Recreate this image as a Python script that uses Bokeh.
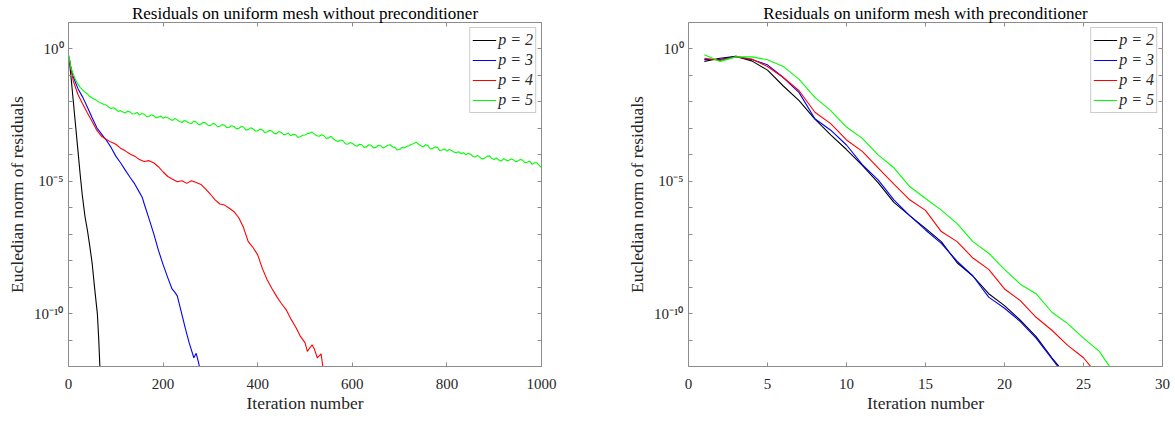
from bokeh.plotting import figure
from bokeh.models import (Range1d, FixedTicker, LogAxis, LinearAxis, Legend, LegendItem,
                          CustomJSTickFormatter)
from bokeh.layouts import row
from bokeh.embed import file_html
from bokeh.resources import INLINE

# ---------------- data: without preconditioner (log10 of residual norm) -------------
black_nop_it = [1, 5, 10, 15, 20, 25, 29, 35, 40, 45, 50, 55, 61, 64, 67]
black_nop_log = [-0.3, -1.0, -1.95, -2.9, -3.85, -4.8, -5.5, -6.35, -6.85, -7.45, -8.1, -9.0, -10.0, -11.0, -12.3]

blue_nop_it = [1, 5, 10, 20, 30, 40, 50, 60, 70, 80, 90, 100, 110, 120, 130, 140, 150, 156, 160,
               170, 180, 190, 200, 210, 219, 225, 230, 240, 247, 255, 265, 270, 275, 280]
blue_nop_log = [-0.3, -0.7, -1.05, -1.5, -1.82, -2.2, -2.6, -2.98, -3.22, -3.45, -3.72, -4.05, -4.3,
                -4.58, -4.85, -5.1, -5.42, -5.61, -5.85, -6.4, -6.97, -7.6, -8.15, -8.65, -9.07, -9.2,
                -9.33, -10.05, -10.56, -11.1, -11.67, -11.5, -11.85, -12.3]

red_nop_it = [1, 10, 20, 30, 40, 50, 60, 70, 80, 90, 100, 110, 120, 130, 140, 150, 160, 170, 180,
              190, 200, 210, 220, 230, 240, 250, 260, 270, 280, 290, 300, 310, 320, 330, 340, 350,
              360, 370, 380, 390, 400, 410, 420, 430, 440, 450, 460, 470, 480, 490, 500, 505, 510,
              515, 520, 526, 530, 534, 540]
red_nop_log = [-0.32, -1.2, -1.72, -2.08, -2.42, -2.74, -3.08, -3.3, -3.42, -3.52, -3.6, -3.75, -3.85,
               -3.97, -4.05, -4.18, -4.25, -4.22, -4.3, -4.45, -4.65, -4.82, -4.92, -5.02, -4.98,
               -5.08, -4.98, -5.05, -5.12, -5.3, -5.49, -5.7, -5.86, -5.9, -6.02, -6.15, -6.38,
               -6.75, -7.28, -7.5, -7.78, -8.3, -8.72, -9.05, -9.35, -9.62, -9.85, -10.2, -10.5,
               -10.85, -11.1, -11.43, -11.3, -11.18, -11.35, -11.67, -11.6, -11.52, -12.3]

green_nop_it = [1] + list(range(5, 1001, 5))
green_nop_log = [-0.25,
                 -0.72, -0.95, -1.16, -1.33, -1.46, -1.55, -1.63, -1.7, -1.8, -1.85,
                 -1.9, -1.95, -2.02, -2.05, -2.1, -2.12, -2.2, -2.25, -2.22, -2.28,
                 -2.36, -2.33, -2.38, -2.42, -2.35, -2.38, -2.46, -2.45, -2.4, -2.5,
                 -2.44, -2.47, -2.56, -2.55, -2.49, -2.52, -2.6, -2.58, -2.53, -2.62,
                 -2.57, -2.6, -2.66, -2.7, -2.63, -2.68, -2.74, -2.78, -2.7, -2.74,
                 -2.8, -2.82, -2.73, -2.76, -2.86, -2.84, -2.77, -2.8, -2.88, -2.9,
                 -2.82, -2.84, -2.94, -2.92, -2.86, -2.88, -2.98, -2.96, -2.9, -2.93,
                 -3.02, -3.0, -2.93, -2.95, -3.06, -3.05, -2.98, -3.02, -3.1, -3.1,
                 -3.03, -3.06, -3.16, -3.14, -3.07, -3.1, -3.2, -3.2, -3.12, -3.16,
                 -3.24, -3.22, -3.18, -3.28, -3.22, -3.24, -3.34, -3.32, -3.26, -3.25,
                 -3.2, -3.18, -3.14, -3.22, -3.28, -3.3, -3.24, -3.28, -3.38, -3.36,
                 -3.3, -3.4, -3.46, -3.5, -3.44, -3.46, -3.58, -3.6, -3.54, -3.56,
                 -3.64, -3.68, -3.6, -3.62, -3.72, -3.7, -3.62, -3.64, -3.74, -3.72,
                 -3.64, -3.66, -3.74, -3.7, -3.64, -3.62, -3.7, -3.72, -3.82, -3.8,
                 -3.72, -3.74, -3.68, -3.66, -3.6, -3.58, -3.52, -3.6, -3.66, -3.7,
                 -3.62, -3.66, -3.78, -3.76, -3.7, -3.72, -3.84, -3.82, -3.78, -3.86,
                 -3.8, -3.84, -3.9, -3.92, -3.88, -3.96, -3.92, -4.0, -3.94, -3.98,
                 -4.06, -4.08, -4.02, -4.1, -4.16, -4.12, -4.06, -4.04, -4.14, -4.18,
                 -4.12, -4.2, -4.24, -4.14, -4.2, -4.22, -4.16, -4.18, -4.26, -4.24,
                 -4.18, -4.2, -4.3, -4.28, -4.24, -4.36, -4.3, -4.3, -4.4, -4.48]

# ---------------- data: with preconditioner ----------------
black_pc_log = [-0.47, -0.35, -0.28, -0.45, -0.8, -1.4, -1.95, -2.65, -3.25, -3.8, -4.4, -5.05,
                -5.8, -6.3, -6.78, -7.28, -8.08, -8.58, -9.25, -9.7, -10.25, -10.87, -11.67, -12.4]
blue_pc_log = [-0.4, -0.4, -0.28, -0.4, -0.6, -1.08, -1.65, -2.64, -3.07, -3.63, -4.37, -4.95,
               -5.7, -6.3, -6.84, -7.35, -8.02, -8.58, -9.38, -9.8, -10.3, -10.93, -11.7, -12.5]
red_pc_log = [-0.35, -0.43, -0.3, -0.38, -0.66, -1.08, -1.58, -2.39, -2.82, -3.44, -3.87, -4.49,
              -5.11, -5.7, -6.1, -6.9, -7.28, -7.9, -8.33, -9.07, -9.51, -10.14, -10.63, -11.2,
              -11.67, -12.4]
green_pc_log = [-0.22, -0.47, -0.3, -0.3, -0.41, -0.66, -1.15, -1.83, -2.33, -2.95, -3.38, -4.0,
                -4.49, -5.2, -5.65, -6.09, -6.6, -7.28, -7.72, -8.33, -8.89, -9.25, -9.95, -10.38,
                -10.93, -11.43, -12.3]

labels = ["p = 2", "p = 3", "p = 4", "p = 5"]
colors = ["#000000", "#0000ff", "#ff0000", "#00ff00"]
titles = ["Residuals on uniform mesh without preconditioner",
          "Residuals on uniform mesh with preconditioner"]
x_ticks_left = [0, 200, 400, 600, 800, 1000]
x_ticks_right = [0, 5, 10, 15, 20, 25, 30]
y_decades = list(range(-12, 2))

SERIF = "Liberation Serif"
AX = "#8c8c8c"
TXT = "#262626"

fmt_code = """
const e = Math.round(Math.log10(tick));
if (e % 5 !== 0) return "";
const m = {"0":"\u2070","1":"\u00b9","2":"\u00b2","3":"\u00b3","4":"\u2074","5":"\u2075",
           "6":"\u2076","7":"\u2077","8":"\u2078","9":"\u2079","-":"\u207b"};
return "10" + String(e).split("").map(c => m[c]).join("");
"""


def style_axis(ax, labels_on=True):
    ax.axis_line_color = AX
    ax.major_tick_line_color = AX
    ax.major_tick_in = 4
    ax.major_tick_out = 0
    ax.minor_tick_line_color = None
    if labels_on:
        ax.major_label_text_font = SERIF
        ax.major_label_text_font_size = "15px"
        ax.major_label_text_color = TXT
        ax.axis_label_text_font = SERIF
        ax.axis_label_text_font_size = "17.5px"
        ax.axis_label_text_font_style = "normal"
        ax.axis_label_text_color = TXT
    else:
        ax.formatter = CustomJSTickFormatter(code="return '';")
        ax.major_label_text_font_size = "1px"
        ax.major_label_standoff = 0


def make_fig(title, xr, xticks, series, width, bl, br):
    p = figure(width=width, height=415, x_range=Range1d(*xr), y_range=Range1d(1e-12, 10),
               y_axis_type="log", output_backend="svg", toolbar_location=None,
               min_border_left=bl, min_border_right=br, min_border_top=22, min_border_bottom=44)
    p.title.text = title
    p.title.text_font = SERIF
    p.title.text_font_size = "17px"
    p.title.text_font_style = "normal"
    p.title.text_color = "#000000"
    p.title.align = "center"
    p.title.standoff = 0
    p.title.offset = 0
    p.outline_line_color = None
    p.grid.visible = False
    p.background_fill_color = "white"
    p.border_fill_color = "white"

    yt = FixedTicker(ticks=[10.0 ** k for k in y_decades])
    xt = FixedTicker(ticks=xticks)
    p.xaxis.ticker = xt
    p.yaxis.ticker = yt
    p.yaxis.formatter = CustomJSTickFormatter(code=fmt_code)
    p.xaxis.axis_label = "Iteration number"
    p.yaxis.axis_label = "Eucledian norm of residuals"
    p.xaxis.major_label_standoff = 12
    p.yaxis.major_label_standoff = 5
    p.xaxis.axis_label_standoff = 1
    p.yaxis.axis_label_standoff = 4
    for ax in p.xaxis + p.yaxis:
        style_axis(ax)
    top = LinearAxis(ticker=xt)
    style_axis(top, labels_on=False)
    p.add_layout(top, "above")
    right = LogAxis(ticker=yt)
    style_axis(right, labels_on=False)
    p.add_layout(right, "right")

    items = []
    for (xs, ys), lab, col in zip(series, labels, colors):
        r = p.line(xs, [10.0 ** v for v in ys], line_color=col, line_width=1.1)
        items.append(LegendItem(label=lab, renderers=[r]))
    leg = Legend(items=items, location="top_right")
    leg.margin = 5
    leg.padding = 2
    leg.spacing = 0
    leg.label_height = 20
    leg.glyph_height = 20
    leg.glyph_width = 24
    leg.label_standoff = 2
    leg.label_text_font = SERIF
    leg.label_text_font_size = "16px"
    leg.label_text_font_style = "italic"
    leg.label_text_color = TXT
    leg.border_line_color = "#999999"
    leg.border_line_width = 1
    leg.background_fill_alpha = 1
    p.add_layout(leg, "center")
    return p


left_series = [(black_nop_it, black_nop_log), (blue_nop_it, blue_nop_log),
               (red_nop_it, red_nop_log), (green_nop_it, green_nop_log)]
right_series = [(list(range(1, len(v) + 1)), v) for v in
                [black_pc_log, blue_pc_log, red_pc_log, green_pc_log]]

p1 = make_fig(titles[0], (0, 1000), x_ticks_left, left_series, 608, 68, 67)
p2 = make_fig(titles[1], (0, 30), x_ticks_right, right_series, 565, 80, 11)

layout = row(p1, p2)
open("out.html", "w").write(file_html(layout, INLINE))
